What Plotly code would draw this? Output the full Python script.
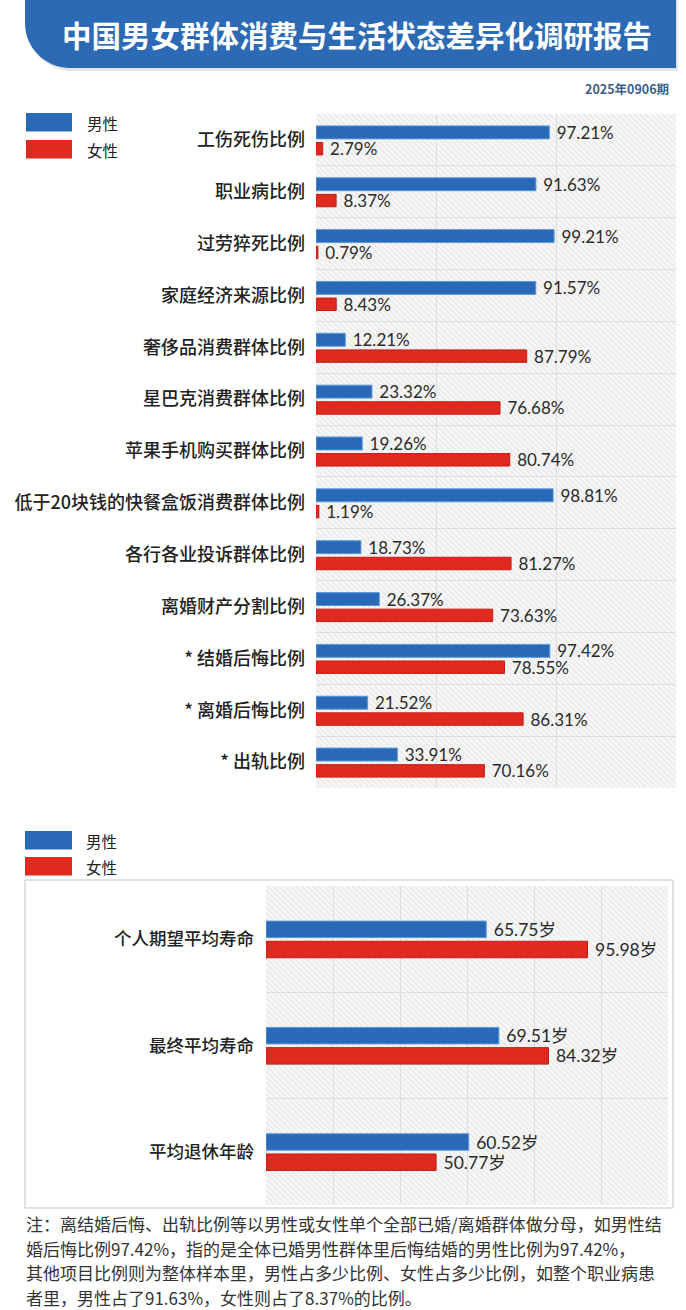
import base64
import plotly.graph_objects as go

# ---------------- data ----------------
categories_top = ["工伤死伤比例", "职业病比例", "过劳猝死比例", "家庭经济来源比例",
                  "奢侈品消费群体比例", "星巴克消费群体比例", "苹果手机购买群体比例",
                  "低于20块钱的快餐盒饭消费群体比例", "各行各业投诉群体比例", "离婚财产分割比例",
                  "* 结婚后悔比例", "* 离婚后悔比例", "* 出轨比例"]
male_top = [97.21, 91.63, 99.21, 91.57, 12.21, 23.32, 19.26, 98.81, 18.73, 26.37, 97.42, 21.52, 33.91]
female_top = [2.79, 8.37, 0.79, 8.43, 87.79, 76.68, 80.74, 1.19, 81.27, 73.63, 78.55, 86.31, 70.16]

categories_bottom = ["个人期望平均寿命", "最终平均寿命", "平均退休年龄"]
male_bottom = [65.75, 69.51, 60.52]
female_bottom = [95.98, 84.32, 50.77]

series_names = ["男性", "女性"]
title_text = "中国男女群体消费与生活状态差异化调研报告"
issue_text = "2025年0906期"
note_lines = [
    "注：离结婚后悔、出轨比例等以男性或女性单个全部已婚/离婚群体做分母，如男性结",
    "婚后悔比例97.42%，指的是全体已婚男性群体里后悔结婚的男性比例为97.42%，",
    "其他项目比例则为整体样本里，男性占多少比例、女性占多少比例，如整个职业病患",
    "者里，男性占了91.63%，女性则占了8.37%的比例。",
]

# ---------------- styling ----------------
W, H = 686, 1310
BLUE = "#2a69b8"
RED = "#e0291f"
HEADER_BLUE = "#2c6ab5"
CJK = "Noto Sans CJK SC"
NUM = "Lato, Noto Sans CJK SC"


def px(x):
    return x / W


def py(y):
    return 1 - y / H


# plot area pixel boxes
TOP = dict(x0=316, x1=676, y0=114, y1=788)
BOT = dict(x0=266, x1=668, y0=886, y1=1205)


def hatch_svg(w, h):
    svg = f'''<svg xmlns="http://www.w3.org/2000/svg" width="{w}" height="{h}" viewBox="0 0 {w} {h}" preserveAspectRatio="none">
<defs><pattern id="p" patternUnits="userSpaceOnUse" width="4" height="4" patternTransform="rotate(-45)">
<rect width="4" height="4" fill="#f8f8f8"/><line x1="1" y1="0" x2="1" y2="4" stroke="#e9e9e9" stroke-width="1.6"/></pattern></defs>
<rect width="{w}" height="{h}" fill="url(#p)"/></svg>'''
    return "data:image/svg+xml;base64," + base64.b64encode(svg.encode()).decode()


fig = go.Figure()

idx_top = list(range(len(categories_top)))
idx_bot = list(range(len(categories_bottom)))

# top chart bars
fig.add_trace(go.Bar(
    y=idx_top, x=male_top, orientation="h", name=series_names[0],
    marker=dict(color=BLUE, line=dict(color="#5d9ad8", width=1)),
    width=0.25, offset=-0.27,
    texttemplate=" %{x:.2f}%", textposition="outside", constraintext="none",
    textfont=dict(family=NUM, size=17, color="#2a2a2a"), cliponaxis=False,
    xaxis="x", yaxis="y", showlegend=False))
fig.add_trace(go.Bar(
    y=idx_top, x=female_top, orientation="h", name=series_names[1],
    marker=dict(color=RED, line=dict(color="#c31d15", width=1)),
    width=0.24, offset=0.05,
    texttemplate=" %{x:.2f}%", textposition="outside", constraintext="none",
    textfont=dict(family=NUM, size=17, color="#2a2a2a"), cliponaxis=False,
    xaxis="x", yaxis="y", showlegend=False))

# bottom chart bars
fig.add_trace(go.Bar(
    y=idx_bot, x=male_bottom, orientation="h", name=series_names[0],
    marker=dict(color=BLUE, line=dict(color="#5d9ad8", width=1)),
    width=0.155, offset=-0.17,
    texttemplate=" %{x:.2f}岁", textposition="outside", constraintext="none",
    textfont=dict(family=NUM, size=17.5, color="#2a2a2a"), cliponaxis=False,
    xaxis="x2", yaxis="y2", showlegend=False))
fig.add_trace(go.Bar(
    y=idx_bot, x=female_bottom, orientation="h", name=series_names[1],
    marker=dict(color=RED, line=dict(color="#c31d15", width=1)),
    width=0.155, offset=0.02,
    texttemplate=" %{x:.2f}岁", textposition="outside", constraintext="none",
    textfont=dict(family=NUM, size=17.5, color="#2a2a2a"), cliponaxis=False,
    xaxis="x2", yaxis="y2", showlegend=False))

grid = "#dedede"
fig.update_layout(
    width=W, height=H,
    margin=dict(l=0, r=0, t=0, b=0),
    paper_bgcolor="white", plot_bgcolor="rgba(0,0,0,0)",
    barmode="overlay",
    font=dict(family=CJK, color="#222"),
    xaxis=dict(domain=[px(TOP["x0"]), px(TOP["x1"])], range=[0, 150], dtick=50,
               showgrid=True, gridcolor=grid, gridwidth=1, zeroline=False,
               showticklabels=False, showline=False, fixedrange=True),
    yaxis=dict(domain=[py(TOP["y1"]), py(TOP["y0"])],
               range=[len(categories_top) - 0.5, -0.5],
               tickmode="array", tickvals=idx_top, ticktext=categories_top,
               tickfont=dict(family=CJK, size=18, color="#222", weight=500),
               ticklabelstandoff=10, showgrid=False, zeroline=False, showline=False,
               minor=dict(tickvals=[i + 0.5 for i in idx_top[:-1]], showgrid=True,
                          gridcolor=grid, gridwidth=1, ticklen=0)),
    xaxis2=dict(domain=[px(BOT["x0"]), px(BOT["x1"])], range=[0, 120], dtick=20,
                showgrid=True, gridcolor=grid, gridwidth=1, zeroline=False,
                showticklabels=False, showline=False, anchor="y2"),
    yaxis2=dict(domain=[py(BOT["y1"]), py(BOT["y0"])],
                range=[len(categories_bottom) - 0.5, -0.5],
                tickmode="array", tickvals=idx_bot, ticktext=categories_bottom,
                tickfont=dict(family=CJK, size=17.5, color="#222", weight=500),
                ticklabelstandoff=11, showgrid=False, zeroline=False, showline=False,
                anchor="x2",
                minor=dict(tickvals=[i + 0.5 for i in idx_bot[:-1]], showgrid=True,
                           gridcolor=grid, gridwidth=1, ticklen=0)),
)

# hatched plot backgrounds
images = []
for box in (TOP, BOT):
    w = box["x1"] - box["x0"]
    h = box["y1"] - box["y0"]
    images.append(dict(source=hatch_svg(w, h), xref="paper", yref="paper",
                       x=px(box["x0"]), y=py(box["y0"]), sizex=w / W, sizey=h / H,
                       xanchor="left", yanchor="top", sizing="stretch", layer="below"))
fig.update_layout(images=images)

shapes = []
annotations = []

# header banner with rounded bottom-left corner
r = 45
bx0, bx1, by1 = 25, 676, 68
k = 0.552 * r


def P(x, y):
    return f"{px(x):.5f},{py(y):.5f}"


shadow = (f"M {P(bx0 + 2, -2)} L {P(bx1 + 2, -2)} L {P(bx1 + 2, by1 + 3)} L {P(bx0 + 2 + r, by1 + 3)} "
          f"C {P(bx0 + 2 + r - k, by1 + 3)} {P(bx0 + 2, by1 + 3 - r + k)} {P(bx0 + 2, by1 + 3 - r)} Z")
shapes.append(dict(type="path", xref="paper", yref="paper", path=shadow,
                   fillcolor="rgba(0,0,0,0.10)", line=dict(width=0), layer="below"))
banner = (f"M {P(bx0, -2)} L {P(bx1, -2)} L {P(bx1, by1)} L {P(bx0 + r, by1)} "
          f"C {P(bx0 + r - k, by1)} {P(bx0, by1 - r + k)} {P(bx0, by1 - r)} Z")
shapes.append(dict(type="path", xref="paper", yref="paper", path=banner,
                   fillcolor=HEADER_BLUE, line=dict(width=0), layer="below"))

annotations.append(dict(text=title_text, xref="paper", yref="paper", x=px(357), y=py(34),
                        xanchor="center", yanchor="middle", showarrow=False,
                        font=dict(family=CJK, size=29.5, color="white", weight="bold")))
annotations.append(dict(text=issue_text, xref="paper", yref="paper", x=px(671), y=py(88),
                        xanchor="right", yanchor="middle", showarrow=False,
                        font=dict(family=CJK, size=12.5, color="#3d5f8c", weight="bold")))

# custom legends
def add_legend(x0, x1, ytops, tx):
    for (yt, color, name) in zip(ytops, [BLUE, RED], series_names):
        shapes.append(dict(type="rect", xref="paper", yref="paper",
                           x0=px(x0), x1=px(x1), y0=py(yt + 18.5), y1=py(yt),
                           fillcolor=color, line=dict(width=0)))
        annotations.append(dict(text=name, xref="paper", yref="paper", x=px(tx), y=py(yt + 9.5),
                                xanchor="left", yanchor="middle", showarrow=False,
                                font=dict(family=CJK, size=15.5, color="#222")))


add_legend(26, 72, [113, 140], 85)
add_legend(25, 72, [831, 857], 84)

# bottom box border
shapes.append(dict(type="rect", xref="paper", yref="paper",
                   x0=px(25), x1=px(673), y0=py(1208), y1=py(880),
                   fillcolor="rgba(0,0,0,0)", line=dict(color="#c4c4c4", width=1), layer="below"))

# footnote lines
for i, line in enumerate(note_lines):
    annotations.append(dict(text=line, xref="paper", yref="paper", x=px(24), y=py(1223.5 + i * 24.6),
                            xanchor="left", yanchor="middle", showarrow=False,
                            font=dict(family=CJK, size=17, color="#333")))

fig.update_layout(shapes=shapes, annotations=annotations)
fig.write_html("out.html", config={"displayModeBar": False},
               post_script="document.body.style.margin='0';document.body.style.overflow='hidden';")
